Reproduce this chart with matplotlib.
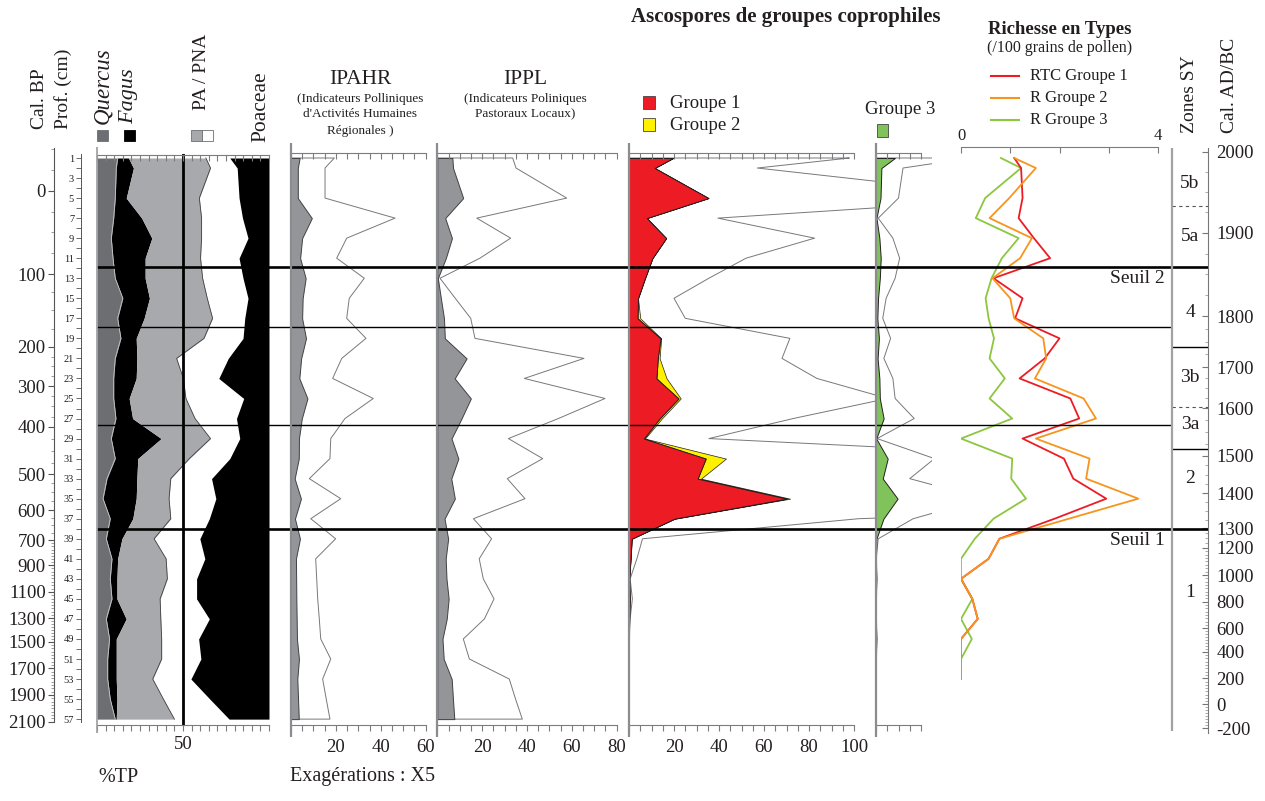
import numpy as np
import matplotlib
matplotlib.use("Agg")
import matplotlib.pyplot as plt
from matplotlib.patches import Rectangle
from matplotlib.ticker import FixedLocator, FixedFormatter

plt.rcParams['font.family'] = ['Liberation Serif', 'DejaVu Serif']
plt.rcParams['axes.unicode_minus'] = False

# ---------------- data ----------------
samples = [1, 2, 5, 7, 9, 11, 13, 15, 17, 19, 21, 23, 25, 27, 29,
           31, 33, 35, 37, 39, 41, 43, 45, 47, 49, 51, 53, 55, 57]

quercus = [12.0, 11.2, 10.6, 9.7, 8.3, 9.3, 10.6, 15.0, 12.0, 13.9, 10.6, 9.7, 9.7, 11.0, 8.3,
           10.6, 5.8, 3.5, 7.7, 5.4, 8.7, 7.7, 8.7, 5.4, 7.3, 6.2, 6.2, 7.7, 10.6]
fagus = [6.3, 10.0, 6.4, 16.3, 23.6, 18.7, 17.4, 15.5, 15.4, 8.9, 12.6, 13.1, 9.0, 9.7, 29.0,
         13.1, 17.4, 19.3, 13.1, 9.1, 3.3, 3.9, 2.9, 11.6, 3.9, 5.0, 5.0, 3.9, 0.6]
pa_total = [63.3, 66.0, 59.5, 60.8, 60.8, 60.2, 61.4, 64.1, 67.2, 62.2, 46.3, 50.2, 51.7, 57.0, 66.0,
            53.7, 42.9, 41.9, 42.9, 33.2, 40.2, 40.9, 36.7, 37.1, 37.6, 37.6, 32.4, 38.6, 45.0]
poaceae = [22.8, 18.5, 17.4, 15.4, 12.2, 17.4, 15.1, 12.2, 14.1, 15.1, 23.7, 29.2, 14.7, 18.9, 17.0,
           22.8, 33.4, 30.9, 34.7, 40.2, 37.3, 42.1, 42.1, 34.7, 40.9, 39.6, 45.4, 34.4, 23.2]

ipahr = [3.86, 3.03, 3.03, 9.27, 4.96, 4.07, 6.53, 5.19, 4.96, 6.68, 4.52, 3.71, 7.33, 4.81, 3.54,
         3.47, 1.63, 4.43, 1.76, 3.98, 2.20, 2.29, 2.38, 2.52, 2.65, 3.54, 2.82, 3.14, 3.47]
ippl = [6.72, 7.02, 11.54, 3.52, 6.54, 3.80, 0.24, 1.60, 2.98, 3.36, 13.08, 7.76, 14.96, 10.80, 6.34,
        9.40, 6.24, 7.82, 3.22, 4.84, 3.74, 4.10, 5.06, 4.20, 2.32, 2.86, 6.42, 6.98, 7.58]

groupe1 = [19.6, 11.4, 35.3, 7.9, 16.5, 10.4, 7.1, 4.0, 3.8, 14.0, 12.8, 12.2, 22.0, 13.6, 6.6,
           34.1, 30.5, 70.1, 20.1, 1.2, 0.7, 0.1, 0.3, 0.1, 0.0, 0.0, 0.0, 0.0, 0.0]
groupe2 = [0.0, 0.0, 0.0, 0.0, 0.0, 0.0, 0.0, 0.0, 1.2, 0.3, 0.8, 4.5, 1.0, 1.0, 0.5,
           9.0, 1.5, 1.5, 0.3, 0.0, 0.0, 0.0, 0.0, 0.0, 0.0, 0.0, 0.0, 0.0, 0.0]
groupe3 = [8.4, 2.4, 2.0, 0.2, 1.5, 2.1, 1.7, 0.9, 0.6, 1.3, 0.7, 1.5, 1.7, 3.4, 0.1,
           5.2, 3.0, 9.6, 3.3, 0.2, 0.0, 0.1, 0.0, 0.0, 0.1, 0.0, 0.0, 0.0, 0.0]
exaggeration = 5

rich_samples = samples[:27]
rtc_g1 = [1.08, 1.22, 1.25, 1.17, 1.48, 1.81, 0.66, 1.25, 1.10, 2.00, 1.70, 1.19, 2.22, 2.40, 1.25,
          2.09, 2.28, 2.95, 1.90, 0.78, 0.56, 0.00, 0.23, 0.34, 0.00, 0.00, 0.00]
r_g2 = [1.08, 1.52, 0.98, 0.58, 1.44, 1.20, 0.64, 1.00, 1.08, 1.67, 1.73, 1.50, 2.49, 2.74, 1.52,
        2.61, 2.54, 3.60, 2.19, 0.78, 0.56, 0.00, 0.23, 0.34, 0.00, 0.00, 0.00]
r_g3 = [0.81, 1.22, 0.49, 0.30, 1.17, 0.83, 0.62, 0.50, 0.56, 0.67, 0.58, 0.89, 0.58, 1.04, 0.00,
        1.04, 1.02, 1.32, 0.66, 0.28, 0.00, 0.00, 0.23, 0.00, 0.22, 0.00, 0.00]

# age-depth model (tick levels)
bp_ages = [0, 100, 200, 300, 400, 500, 600, 700, 900, 1100, 1300, 1500, 1700, 1900, 2100]
bp_depth = [4.27, 12.58, 19.84, 23.77, 27.83, 32.58, 36.14, 39.14, 41.63, 44.30, 46.95, 49.27, 51.93, 54.59, 57.26]
ad_years = [2000, 1900, 1800, 1700, 1600, 1500, 1400, 1300, 1200, 1000, 800, 600, 400, 200, 0, -200]
ad_depth = [0.37, 8.46, 16.77, 21.89, 25.98, 30.74, 34.47, 37.96, 39.89, 42.62, 45.28, 47.94, 50.27, 52.93, 55.52, 57.92]

zone_thick = [11.88, 38.0]
zone_thin = [17.9, 27.6]
zone_sub_solid = [19.9, 30.0]
zone_sub_dashed = [5.8, 25.9]
zone_names = ['5b', '5a', '4', '3b', '3a', '2', '1']
zone_levels = [3.5, 8.8, 16.4, 22.9, 27.6, 33.0, 44.4]
seuil_names = ['Seuil 2', 'Seuil 1']
seuil_levels = [12.98, 39.2]

# ---------------- styles ----------------
TXT = '#231f20'
AXC = '#7a7c7f'
DARKG = '#6d6e71'
LIGHTG = '#a7a9ac'
MIDG = '#939598'
RED = '#ed1c24'
YEL = '#fff200'
GRN = '#80c35a'
ORA = '#f7941d'
RGRN = '#8dc63f'

W, H = 1265, 801
fig = plt.figure(figsize=(W / 100, H / 100), dpi=100)


def box(x0, y0, x1, y1):
    return [x0 / W, 1 - y1 / H, (x1 - x0) / W, (y1 - y0) / H]


def s_of(y):
    return 1 + (y - 158) / 10.02


def data_ax(x0, x1, xmax, y0=154, y1=725):
    ax = fig.add_axes(box(x0, y0, x1, y1))
    ax.set_xlim(0, xmax)
    ax.set_ylim(s_of(y1), s_of(y0))
    ax.axis('off')
    return ax


def scale(x0, x1, y, vmax, ticks, labels=None, where='bottom', length=4, pad=8, fs=13):
    ax = fig.add_axes([x0 / W, 1 - y / H, (x1 - x0) / W, 1e-6])
    ax.set_xlim(0, vmax)
    for sp in ax.spines.values():
        sp.set_visible(False)
        sp.set_color(AXC)
        sp.set_linewidth(0.8)
    ax.patch.set_visible(False)
    ax.set_yticks([])
    ax.xaxis.set_major_locator(FixedLocator(ticks))
    if labels is None:
        labels = [''] * len(ticks)
    ax.xaxis.set_major_formatter(FixedFormatter(labels))
    if where == 'bottom':
        ax.spines['bottom'].set_visible(True)
        ax.tick_params(axis='x', bottom=True, top=False, direction='out', length=length,
                       width=0.8, color=AXC, labelbottom=True, labeltop=False, pad=pad,
                       labelsize=fs, labelcolor=TXT)
    else:
        ax.spines['top'].set_visible(True)
        ax.xaxis.set_ticks_position('top')
        ax.tick_params(axis='x', bottom=False, top=True, direction='in', length=length,
                       width=0.8, color=AXC, labeltop=True, labelbottom=False, pad=pad,
                       labelsize=fs, labelcolor=TXT)
    return ax


def lab(ticks, shown):
    return [str(t) if t in shown else '' for t in ticks]


# ---------------- pollen panel ----------------
q = np.array(quercus)
qf = q + np.array(fagus)
pa = np.array(pa_total)
poa = 100 - np.array(poaceae)
ax = data_ax(97, 269, 100)
ax.fill_betweenx(samples, 0, q, color=DARKG, lw=0)
ax.fill_betweenx(samples, q, qf, color='black', lw=0)
ax.fill_betweenx(samples, qf, pa, color=LIGHTG, lw=0)
ax.fill_betweenx(samples, poa, 100, color='black', lw=0)
ax.plot(q, samples, color='#c9cacc', lw=0.6)
ax.plot(pa, samples, color='#414042', lw=0.6)
ax.axvline(50, color='black', lw=2.0)
t5 = list(range(0, 101, 5))
scale(97, 269, 155, 100, t5, where='top', length=4)
scale(97, 269, 725, 100, t5, lab(t5, [50]), length=4, pad=4, fs=13.5)

# ---------------- IPAHR ----------------
v = np.array(ipahr)
ax = data_ax(291, 425.7, 60)
ax.fill_betweenx(samples, 0, exaggeration * v, facecolor='none', edgecolor='#77787b', lw=0.7)
ax.fill_betweenx(samples, 0, v, facecolor=MIDG, edgecolor='#414042', lw=0.7)
t = list(range(0, 61, 5))
scale(291, 425.7, 153, 60, t, where='top')
scale(291, 425.7, 725, 60, t, lab(t, [20, 40, 60]), pad=6, fs=13.5)

# ---------------- IPPL ----------------
v = np.array(ippl)
ax = data_ax(437.3, 616.7, 80)
ax.fill_betweenx(samples, 0, exaggeration * v, facecolor='none', edgecolor='#77787b', lw=0.7)
ax.fill_betweenx(samples, 0, v, facecolor=MIDG, edgecolor='#414042', lw=0.7)
t = list(range(0, 81, 5))
scale(437.3, 616.7, 153, 80, t, where='top')
scale(437.3, 616.7, 725, 80, t, lab(t, [20, 40, 60, 80]), pad=6, fs=13.5)

# ---------------- Groupe 1 + 2 ----------------
g1 = np.array(groupe1)
g12 = g1 + np.array(groupe2)
ax = data_ax(629, 875, 246 / 2.25)
ax.fill_betweenx(samples, 0, exaggeration * g12, facecolor='none', edgecolor='#77787b', lw=0.7)
ax.fill_betweenx(samples, g1, g12, facecolor=YEL, edgecolor='#231f20', lw=0.5)
ax.fill_betweenx(samples, 0, g1, facecolor=RED, edgecolor='#231f20', lw=0.7)
t = list(range(0, 101, 5))
scale(629, 854, 153, 100, t, where='top')
scale(629, 854, 725, 100, t, lab(t, [20, 40, 60, 80, 100]), pad=6, fs=13.5)

# ---------------- Groupe 3 ----------------
g3 = np.array(groupe3)
ax = data_ax(876, 931.7, 55.7 / 2.25)
ax.fill_betweenx(samples, 0, exaggeration * g3, facecolor='none', edgecolor='#77787b', lw=0.7)
ax.fill_betweenx(samples, 0, g3, facecolor=GRN, edgecolor='#231f20', lw=0.7)
t = list(range(0, 21, 5))
scale(876, 921, 153, 20, t, where='top')
scale(876, 921, 725, 20, t, pad=6)

# ---------------- Richness ----------------
ax = data_ax(961, 1158, 4)
ax.plot(r_g3, rich_samples, color=RGRN, lw=1.3)
ax.plot(rtc_g1, rich_samples, color=RED, lw=1.3)
ax.plot(r_g2, rich_samples, color=ORA, lw=1.3)
t = [0, 1, 2, 3, 4]
scale(961, 1158, 147, 4, t, lab(t, [0, 4]), where='top', length=4, pad=2, fs=12)

# ---------------- depth axis ----------------
dax = fig.add_axes(box(81, 154, 90, 725))
dax.set_ylim(s_of(725), s_of(154))
dax.patch.set_visible(False)
for k, sp in dax.spines.items():
    sp.set_visible(k == 'left')
dax.spines['left'].set_color('#555555')
dax.spines['left'].set_linewidth(0.7)
dax.spines['left'].set_bounds(0.6, 57.3)
dax.set_xticks([])
dticks = list(range(1, 58))
dax.yaxis.set_major_locator(FixedLocator(dticks))
dax.yaxis.set_major_formatter(FixedFormatter([str(d) if d % 2 == 1 else '' for d in dticks]))
dax.tick_params(axis='y', direction='out', length=3.5, width=0.6, color='#555555',
                labelsize=7.5, pad=1.5, labelcolor=TXT)


def extrap(x, xp, fp):
    xp = np.asarray(xp, float)
    fp = np.asarray(fp, float)
    order = np.argsort(xp)
    xp, fp = xp[order], fp[order]
    out = np.interp(x, xp, fp)
    x = np.asarray(x, float)
    lo = x < xp[0]
    out[lo] = fp[0] + (x[lo] - xp[0]) * (fp[1] - fp[0]) / (xp[1] - xp[0])
    hi = x > xp[-1]
    out[hi] = fp[-1] + (x[hi] - xp[-1]) * (fp[-1] - fp[-2]) / (xp[-1] - xp[-2])
    return out


# ---------------- BP axis ----------------
bax = fig.add_axes(box(54, 148, 60, 725))
bax.set_ylim(s_of(725), s_of(148))
bax.patch.set_visible(False)
for k, sp in bax.spines.items():
    sp.set_visible(k == 'left')
bax.spines['left'].set_color('#555555')
bax.spines['left'].set_linewidth(0.8)
bax.spines['left'].set_bounds(s_of(148), s_of(722))
bax.set_xticks([])
bax.yaxis.set_major_locator(FixedLocator(bp_depth))
bax.yaxis.set_major_formatter(FixedFormatter([str(a) for a in bp_ages]))
minor_bp = np.arange(-50, 2101, 25)
bax.yaxis.set_minor_locator(FixedLocator(extrap(minor_bp, bp_ages, bp_depth)))
bax.tick_params(axis='y', which='major', direction='out', length=4.5, width=0.8, color='#555555',
                labelsize=13.5, pad=1.5, labelcolor=TXT)
bax.tick_params(axis='y', which='minor', direction='out', length=2.2, width=0.5, color='#777777')

# ---------------- AD axis ----------------
aax = fig.add_axes(box(1190, 148, 1208, 733))
aax.set_ylim(s_of(733), s_of(148))
aax.patch.set_visible(False)
for k, sp in aax.spines.items():
    sp.set_visible(k == 'right')
aax.spines['right'].set_color('#777777')
aax.spines['right'].set_linewidth(0.8)
aax.set_xticks([])
aax.yaxis.tick_right()
aax.yaxis.set_major_locator(FixedLocator(ad_depth))
aax.yaxis.set_major_formatter(FixedFormatter([str(a) for a in ad_years]))
minor_ad = np.arange(-200, 2001, 25)
aax.yaxis.set_minor_locator(FixedLocator(np.interp(minor_ad, ad_years[::-1], ad_depth[::-1])))
aax.tick_params(axis='y', which='major', direction='in', length=4.5, width=0.8, color='#777777',
                labelsize=13.5, pad=6, labelcolor=TXT)
aax.tick_params(axis='y', which='minor', direction='in', length=2.5, width=0.5, color='#888888')

# ---------------- zone lines ----------------
zax = fig.add_axes(box(97, 154, 1208, 725))
zax.set_xlim(97, 1208)
zax.set_ylim(s_of(725), s_of(154))
zax.axis('off')
zax.hlines(zone_thick, 97, 1208, color='black', lw=1.9)
zax.hlines(zone_thin, 97, 1172, color='black', lw=1.0)
zax.hlines(zone_sub_solid, 1172, 1208, color='black', lw=1.0)
zax.hlines(zone_sub_dashed, 1172, 1208, color='#555555', lw=0.8, linestyles=(0, (3, 3)))
for name, lv in zip(zone_names, zone_levels):
    zax.text(1190, lv, name, ha='center', va='center', fontsize=14, color=TXT)
for name, lv in zip(seuil_names, seuil_levels):
    zax.text(1165, lv, name, ha='right', va='center', fontsize=14, color=TXT)

# ---------------- decorations / headers ----------------
deco = fig.add_axes([0, 0, 1, 1])
deco.set_xlim(0, W)
deco.set_ylim(H, 0)
deco.axis('off')

deco.vlines([97], 147, 733, color='#9a9c9f', lw=1.2)
deco.vlines([291, 437.3, 629, 876], 143, 737, color='#8a8c8f', lw=1.6)
deco.vlines([1172], 148, 731, color='#a0a2a5', lw=1.6)

kw = dict(rotation=90, ha='center', va='bottom', color=TXT)
deco.text(40, 129, 'Cal. BP', fontsize=14, **kw)
deco.text(63, 129, 'Prof. (cm)', fontsize=14, **kw)
deco.text(103, 124, 'Quercus', fontsize=16.5, style='italic', **kw)
deco.text(129, 124, 'Fagus', fontsize=16, style='italic', **kw)
deco.text(202, 110, 'PA / PNA', fontsize=14, **kw)
deco.text(261, 142, 'Poaceae', fontsize=15.5, **kw)
deco.text(1190, 133, 'Zones SY', fontsize=14, **kw)
deco.text(1230, 133, 'Cal. AD/BC', fontsize=14, **kw)

deco.add_patch(Rectangle((97, 130), 11, 11, facecolor=DARKG, edgecolor=DARKG, lw=0.6))
deco.add_patch(Rectangle((124, 130), 11, 11, facecolor='black', edgecolor='black', lw=0.6))
deco.add_patch(Rectangle((191, 130), 11, 11, facecolor=LIGHTG, edgecolor=DARKG, lw=0.6))
deco.add_patch(Rectangle((202, 130), 11, 11, facecolor='white', edgecolor=DARKG, lw=0.6))

deco.text(360, 80, 'IPAHR', ha='center', va='center', fontsize=15.5, color=TXT)
deco.text(360, 99, '(Indicateurs Polliniques', ha='center', va='center', fontsize=9.5, color=TXT)
deco.text(360, 114, "d'Activités Humaines", ha='center', va='center', fontsize=9.5, color=TXT)
deco.text(360, 131, 'Régionales )', ha='center', va='center', fontsize=9.5, color=TXT)
deco.text(525, 80, 'IPPL', ha='center', va='center', fontsize=15.5, color=TXT)
deco.text(525, 99, '(Indicateurs Poliniques', ha='center', va='center', fontsize=9.5, color=TXT)
deco.text(525, 114, 'Pastoraux Locaux)', ha='center', va='center', fontsize=9.5, color=TXT)

deco.text(786, 17, 'Ascospores de groupes coprophiles', ha='center', va='center',
          fontsize=15, fontweight='bold', color=TXT)
deco.add_patch(Rectangle((643, 96), 12, 13, facecolor=RED, edgecolor='#444444', lw=0.6))
deco.add_patch(Rectangle((643, 118), 12, 13, facecolor=YEL, edgecolor='#444444', lw=0.6))
deco.text(670, 103, 'Groupe 1', ha='left', va='center', fontsize=13.5, color=TXT)
deco.text(670, 125, 'Groupe 2', ha='left', va='center', fontsize=13.5, color=TXT)
deco.text(900, 110, 'Groupe 3', ha='center', va='center', fontsize=13.5, color=TXT)
deco.add_patch(Rectangle((877, 124), 11, 13, facecolor=GRN, edgecolor='#444444', lw=0.6))

deco.text(1060, 30, 'Richesse en Types', ha='center', va='center', fontsize=13.5,
          fontweight='bold', color=TXT)
deco.text(1060, 48, '(/100 grains de pollen)', ha='center', va='center', fontsize=11.5, color=TXT)
for yy, col, name in [(76, RED, 'RTC Groupe 1'), (98, ORA, 'R Groupe 2'), (120, RGRN, 'R Groupe 3')]:
    deco.plot([991, 1019], [yy, yy], color=col, lw=1.5)
    deco.text(1030, yy, name, ha='left', va='center', fontsize=12, color=TXT)

deco.text(98, 777, '%TP', ha='left', va='center', fontsize=14.5, color=TXT)
deco.text(290, 777, 'Exagérations : X5', ha='left', va='center', fontsize=14.5, color=TXT)

fig.savefig('out.png', dpi=100)
